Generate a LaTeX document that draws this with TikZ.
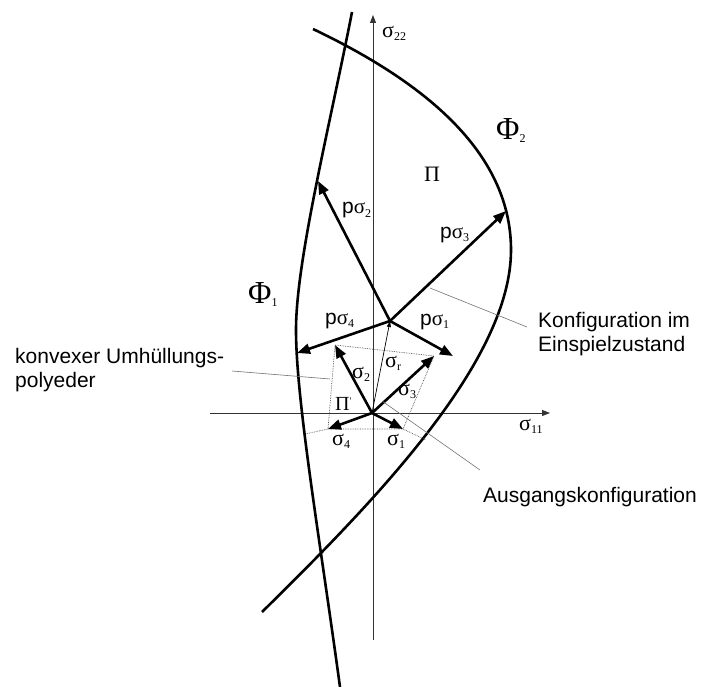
\documentclass[tikz,border=0pt]{standalone}
\usepackage{fontspec}
\setmainfont{Liberation Sans}
\newfontfamily\tms{Liberation Serif}
\usetikzlibrary{arrows.meta}
\newcommand{\subx}[1]{\raisebox{-3pt}{\fontsize{12}{12}\selectfont\tms #1}}
\newcommand{\sgm}[1]{{\tms σ}\subx{#1}}

\begin{document}
\begin{tikzpicture}[
    x=1pt, y=-1pt,
    >={Triangle[length=13pt, width=10pt]},
    vec/.style={->, line width=2.6pt},
    thinvec/.style={-{Triangle[length=6pt, width=4pt]}, line width=0.7pt},
    axis/.style={-{Triangle[length=8pt, width=6pt]}, line width=0.9pt, black!80},
    hull/.style={densely dotted, line width=0.7pt, black!70},
    leader/.style={line width=0.6pt, black!55},
    yield/.style={line width=2.6pt},
    lbl/.style={anchor=base west, inner sep=0pt, font=\fontsize{21}{21}\selectfont},
    grk/.style={anchor=base west, inner sep=0pt, font=\fontsize{22}{22}\selectfont\tms},
    phi/.style={grk, font=\fontsize{32}{32}\selectfont\tms},
    txt/.style={anchor=north west, inner sep=0pt, align=left,
        font=\fontsize{21}{24}\selectfont}
  ]
  \path[use as bounding box, fill=white] (0,0) rectangle (701,687);

  \coordinate (ax0) at (373,640);
  \coordinate (ax1) at (373,15);
  \coordinate (ay0) at (210,413);
  \coordinate (ay1) at (550,413);
  \draw[axis] (ax0) -- (ax1);
  \draw[axis] (ay0) -- (ay1);

  % Fliessflaechen
  \draw[yield] (352,12) .. controls (330,125) and (296,260) .. (296,330)
    .. controls (296,400) and (320,540) .. (340,687);
  \draw[yield] (313,29) .. controls (420,80) and (511,150) .. (511,250)
    .. controls (511,360) and (378,498) .. (262,612);

  \coordinate (o) at (372,413);
  \coordinate (s1) at (403,429);
  \coordinate (s2) at (335,345);
  \coordinate (s3) at (434,356);
  \coordinate (s4) at (328,429);
  \coordinate (p) at (390,321);
  \coordinate (ps1) at (453,356);
  \coordinate (ps2) at (318,181);
  \coordinate (ps3) at (506,211);
  \coordinate (ps4) at (297,353);
  \coordinate (e1) at (426,440);
  \coordinate (e4) at (305,434);

  \draw[hull] (s2) -- (s3) -- (s1) -- (s4) -- cycle;
  \draw[hull] (s1) -- (e1);
  \draw[hull] (s4) -- (e4);

  \draw[vec] (o) -- (s1);
  \draw[vec] (o) -- (s2);
  \draw[vec] (o) -- (s3);
  \draw[vec] (o) -- (s4);
  \draw[thinvec] (o) -- (p);
  \draw[vec] (p) -- (ps1);
  \draw[vec] (p) -- (ps2);
  \draw[vec] (p) -- (ps3);
  \draw[vec] (p) -- (ps4);

  \node[grk] (l22) at (382,38) {σ\subx{22}};
  \node[grk] (l11) at (519,430) {σ\subx{11}};
  \node[phi] (lphi2) at (496,140) {Φ\subx{2}};
  \node[phi] (lphi1) at (248,303) {Φ\subx{1}};
  \node[grk] (lpi) at (424,182) {Π};
  \node[grk, font=\fontsize{20}{20}\selectfont\tms] (lpi1) at (335,410) {Π\raisebox{6pt}{\fontsize{10}{10}\selectfont '}};

  \node[lbl] (lps1) at (420,325) {p\sgm{1}};
  \node[lbl] (lps2) at (342,214) {p\sgm{2}};
  \node[lbl] (lps3) at (440,238) {p\sgm{3}};
  \node[lbl] (lps4) at (325,324) {p\sgm{4}};

  \node[grk] (ls1) at (387,445) {\sgm{1}};
  \node[grk] (ls2) at (352,378) {\sgm{2}};
  \node[grk] (ls3) at (398,395) {\sgm{3}};
  \node[grk] (ls4) at (332,445) {\sgm{4}};
  \node[grk] (lsr) at (385,367) {\sgm{r}};

  \node[txt] (hulltxt) at (15,348) {konvexer Umhüllungs-\\polyeder};
  \node[txt] (endtxt) at (538,312) {Konfiguration im\\Einspielzustand};
  \node[lbl] (starttxt) at (483,502) {Ausgangskonfiguration};

  \coordinate (h0) at (232,371);
  \coordinate (h1) at (330,379);
  \coordinate (k0) at (527,327);
  \coordinate (k1) at (430,288);
  \coordinate (a0) at (480,470);
  \coordinate (a1) at (382,401);
  \draw[leader] (h0) -- (h1);
  \draw[leader] (k0) -- (k1);
  \draw[leader] (a0) -- (a1);
\end{tikzpicture}
\end{document}
